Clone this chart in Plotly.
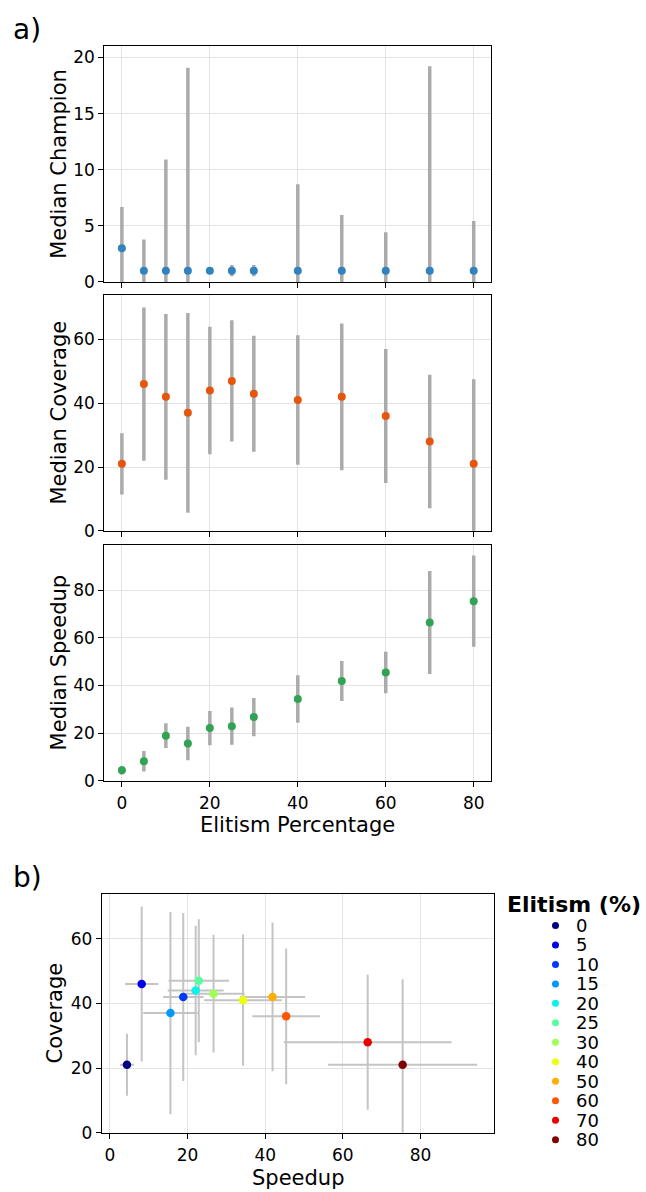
import plotly.graph_objects as go

W, H = 646, 1192

elitism = [0, 5, 10, 15, 20, 25, 30, 40, 50, 60, 70, 80]
elitism_labels = [str(e) for e in elitism]

champion_median = [3, 1, 1, 1, 1, 1, 1, 1, 1, 1, 1, 1]
champion_err = [3.67, 2.78, 9.91, 18.09, 0.0, 0.5, 0.5, 7.7, 4.96, 3.42, 18.23, 4.43]

coverage_median = [21, 46, 42, 37, 44, 47, 43, 41, 42, 36, 28, 21]
coverage_err = [9.6, 24.0, 26.0, 31.3, 20.0, 19.0, 18.2, 20.3, 23.0, 21.0, 20.9, 26.5]

speedup_median = [4.4, 8.2, 18.9, 15.6, 22.1, 22.9, 26.7, 34.3, 41.9, 45.4, 66.4, 75.4]
speedup_err = [1.8, 4.3, 5.2, 7.0, 7.2, 7.8, 8.0, 10.0, 8.4, 8.7, 21.6, 19.2]

point_colors = ["#000080", "#0000e8", "#003aff", "#0097ff", "#0bf3ec", "#56ffa1",
                "#a1ff56", "#ecff0b", "#ffad00", "#ff5700", "#e90100", "#800000"]

FONT = "DejaVu Sans"
TXT = "#000000"


def px_x(p):
    return p / W


def px_y(p):
    return 1 - p / H


fig = go.Figure()

# ---- panel a ----
panel_specs = [
    ("x", "y", champion_median, champion_err, "#3182bd"),
    ("x2", "y2", coverage_median, coverage_err, "#e6550d"),
    ("x3", "y3", speedup_median, speedup_err, "#31a354"),
]
for xa, ya, med, err, col in panel_specs:
    fig.add_trace(go.Scatter(
        x=elitism, y=med, mode="markers", xaxis=xa, yaxis=ya,
        marker=dict(size=8, color=col, line=dict(width=0)),
        error_y=dict(type="data", array=err, symmetric=True, color="#ababab",
                     thickness=3.5, width=0),
        showlegend=False, hoverinfo="skip",
    ))

# ---- panel b ----
fig.add_trace(go.Scatter(
    x=speedup_median, y=coverage_median, mode="markers", xaxis="x4", yaxis="y4",
    marker=dict(size=8, color="rgba(0,0,0,0)"),
    error_x=dict(type="data", array=speedup_err, color="#c4c4c4", thickness=2, width=0),
    error_y=dict(type="data", array=coverage_err, color="#c4c4c4", thickness=2, width=0),
    showlegend=False, hoverinfo="skip",
))
fig.add_trace(go.Scatter(
    x=speedup_median, y=coverage_median, mode="markers", xaxis="x4", yaxis="y4",
    marker=dict(size=8.5, color=point_colors, line=dict(width=0)),
    showlegend=False, hoverinfo="skip",
))

# ---- manual legend ----
legend_pos = list(range(len(elitism)))
fig.add_trace(go.Scatter(
    x=[0] * len(elitism), y=legend_pos, mode="markers", xaxis="x5", yaxis="y5",
    marker=dict(size=7, color=point_colors, line=dict(width=0)),
    showlegend=False, hoverinfo="skip",
))

axis_common = dict(
    showline=True, mirror=True, linecolor="black", linewidth=1,
    ticks="outside", ticklen=5, tickwidth=1, tickcolor="black",
    showgrid=True, gridcolor="#e3e3e3", gridwidth=1, zeroline=False,
    tickfont=dict(family=FONT, size=17, color=TXT),
)

ax_dom = [px_x(104.3), px_x(491.3)]
layout = dict(
    width=W, height=H,
    margin=dict(l=0, r=0, t=0, b=0),
    paper_bgcolor="white", plot_bgcolor="white",
    font=dict(family=FONT, color=TXT),
    showlegend=False,
    xaxis=dict(domain=ax_dom, range=[-4, 84], dtick=20, tick0=0, anchor="y",
               showticklabels=False, **axis_common),
    yaxis=dict(domain=[px_y(284.3), px_y(46.7)], range=[0, 21], dtick=5, tick0=0,
               anchor="x", **axis_common),
    xaxis2=dict(domain=ax_dom, range=[-4, 84], dtick=20, tick0=0, anchor="y2",
                showticklabels=False, **axis_common),
    yaxis2=dict(domain=[px_y(535.3), px_y(297.3)], range=[0, 74], dtick=20, tick0=0,
                anchor="x2", **axis_common),
    xaxis3=dict(domain=ax_dom, range=[-4, 84], dtick=20, tick0=0, anchor="y3",
                ticklabelstandoff=2, **axis_common),
    yaxis3=dict(domain=[px_y(787.3), px_y(549.3)], range=[0, 99.1], dtick=20, tick0=0,
                anchor="x3", **axis_common),
    xaxis4=dict(domain=[px_x(101.7), px_x(494.3)], range=[-2.1, 99.0], dtick=20, tick0=0,
                anchor="y4", ticklabelstandoff=2, **axis_common),
    yaxis4=dict(domain=[px_y(1142.3), px_y(901.7)], range=[0, 73.8], dtick=20, tick0=0,
                anchor="x4", **axis_common),
    xaxis5=dict(domain=[px_x(545), px_x(566)], range=[-1, 1], visible=False, anchor="y5"),
    yaxis5=dict(domain=[px_y(1159.1), px_y(923.5)],
                range=[len(elitism) - 0.5, -0.5], visible=False, anchor="x5"),
)

annotations = []


def txt(text, x, y, size, angle=0, xanchor="center", yanchor="middle", yref="paper"):
    annotations.append(dict(
        text=text, x=x, y=y, xref="paper", yref=yref,
        showarrow=False, textangle=angle, xanchor=xanchor, yanchor=yanchor,
        font=dict(family=FONT, size=size, color=TXT),
    ))


txt("Median Champion", px_x(58.7), px_y(165.5), 21, angle=-90)
txt("Median Coverage", px_x(58.7), px_y(416.3), 21, angle=-90)
txt("Median Speedup", px_x(58.7), px_y(668.3), 21, angle=-90)
txt("Elitism Percentage", px_x(297.8), px_y(832), 21)
txt("Coverage", px_x(55), px_y(1022), 21, angle=-90)
txt("Speedup", px_x(298), px_y(1188), 21)
txt("a)", px_x(11), px_y(30), 28, xanchor="left")
txt("b)", px_x(11), px_y(885), 28, xanchor="left")
txt("<b>Elitism (%)</b>", px_x(505), px_y(911.7), 22, xanchor="left")
for pos, lab in zip(legend_pos, elitism_labels):
    txt(lab, px_x(574), pos, 18, xanchor="left", yref="y5")

layout["annotations"] = annotations
fig.update_layout(**layout)

fig.write_html("out.html")
